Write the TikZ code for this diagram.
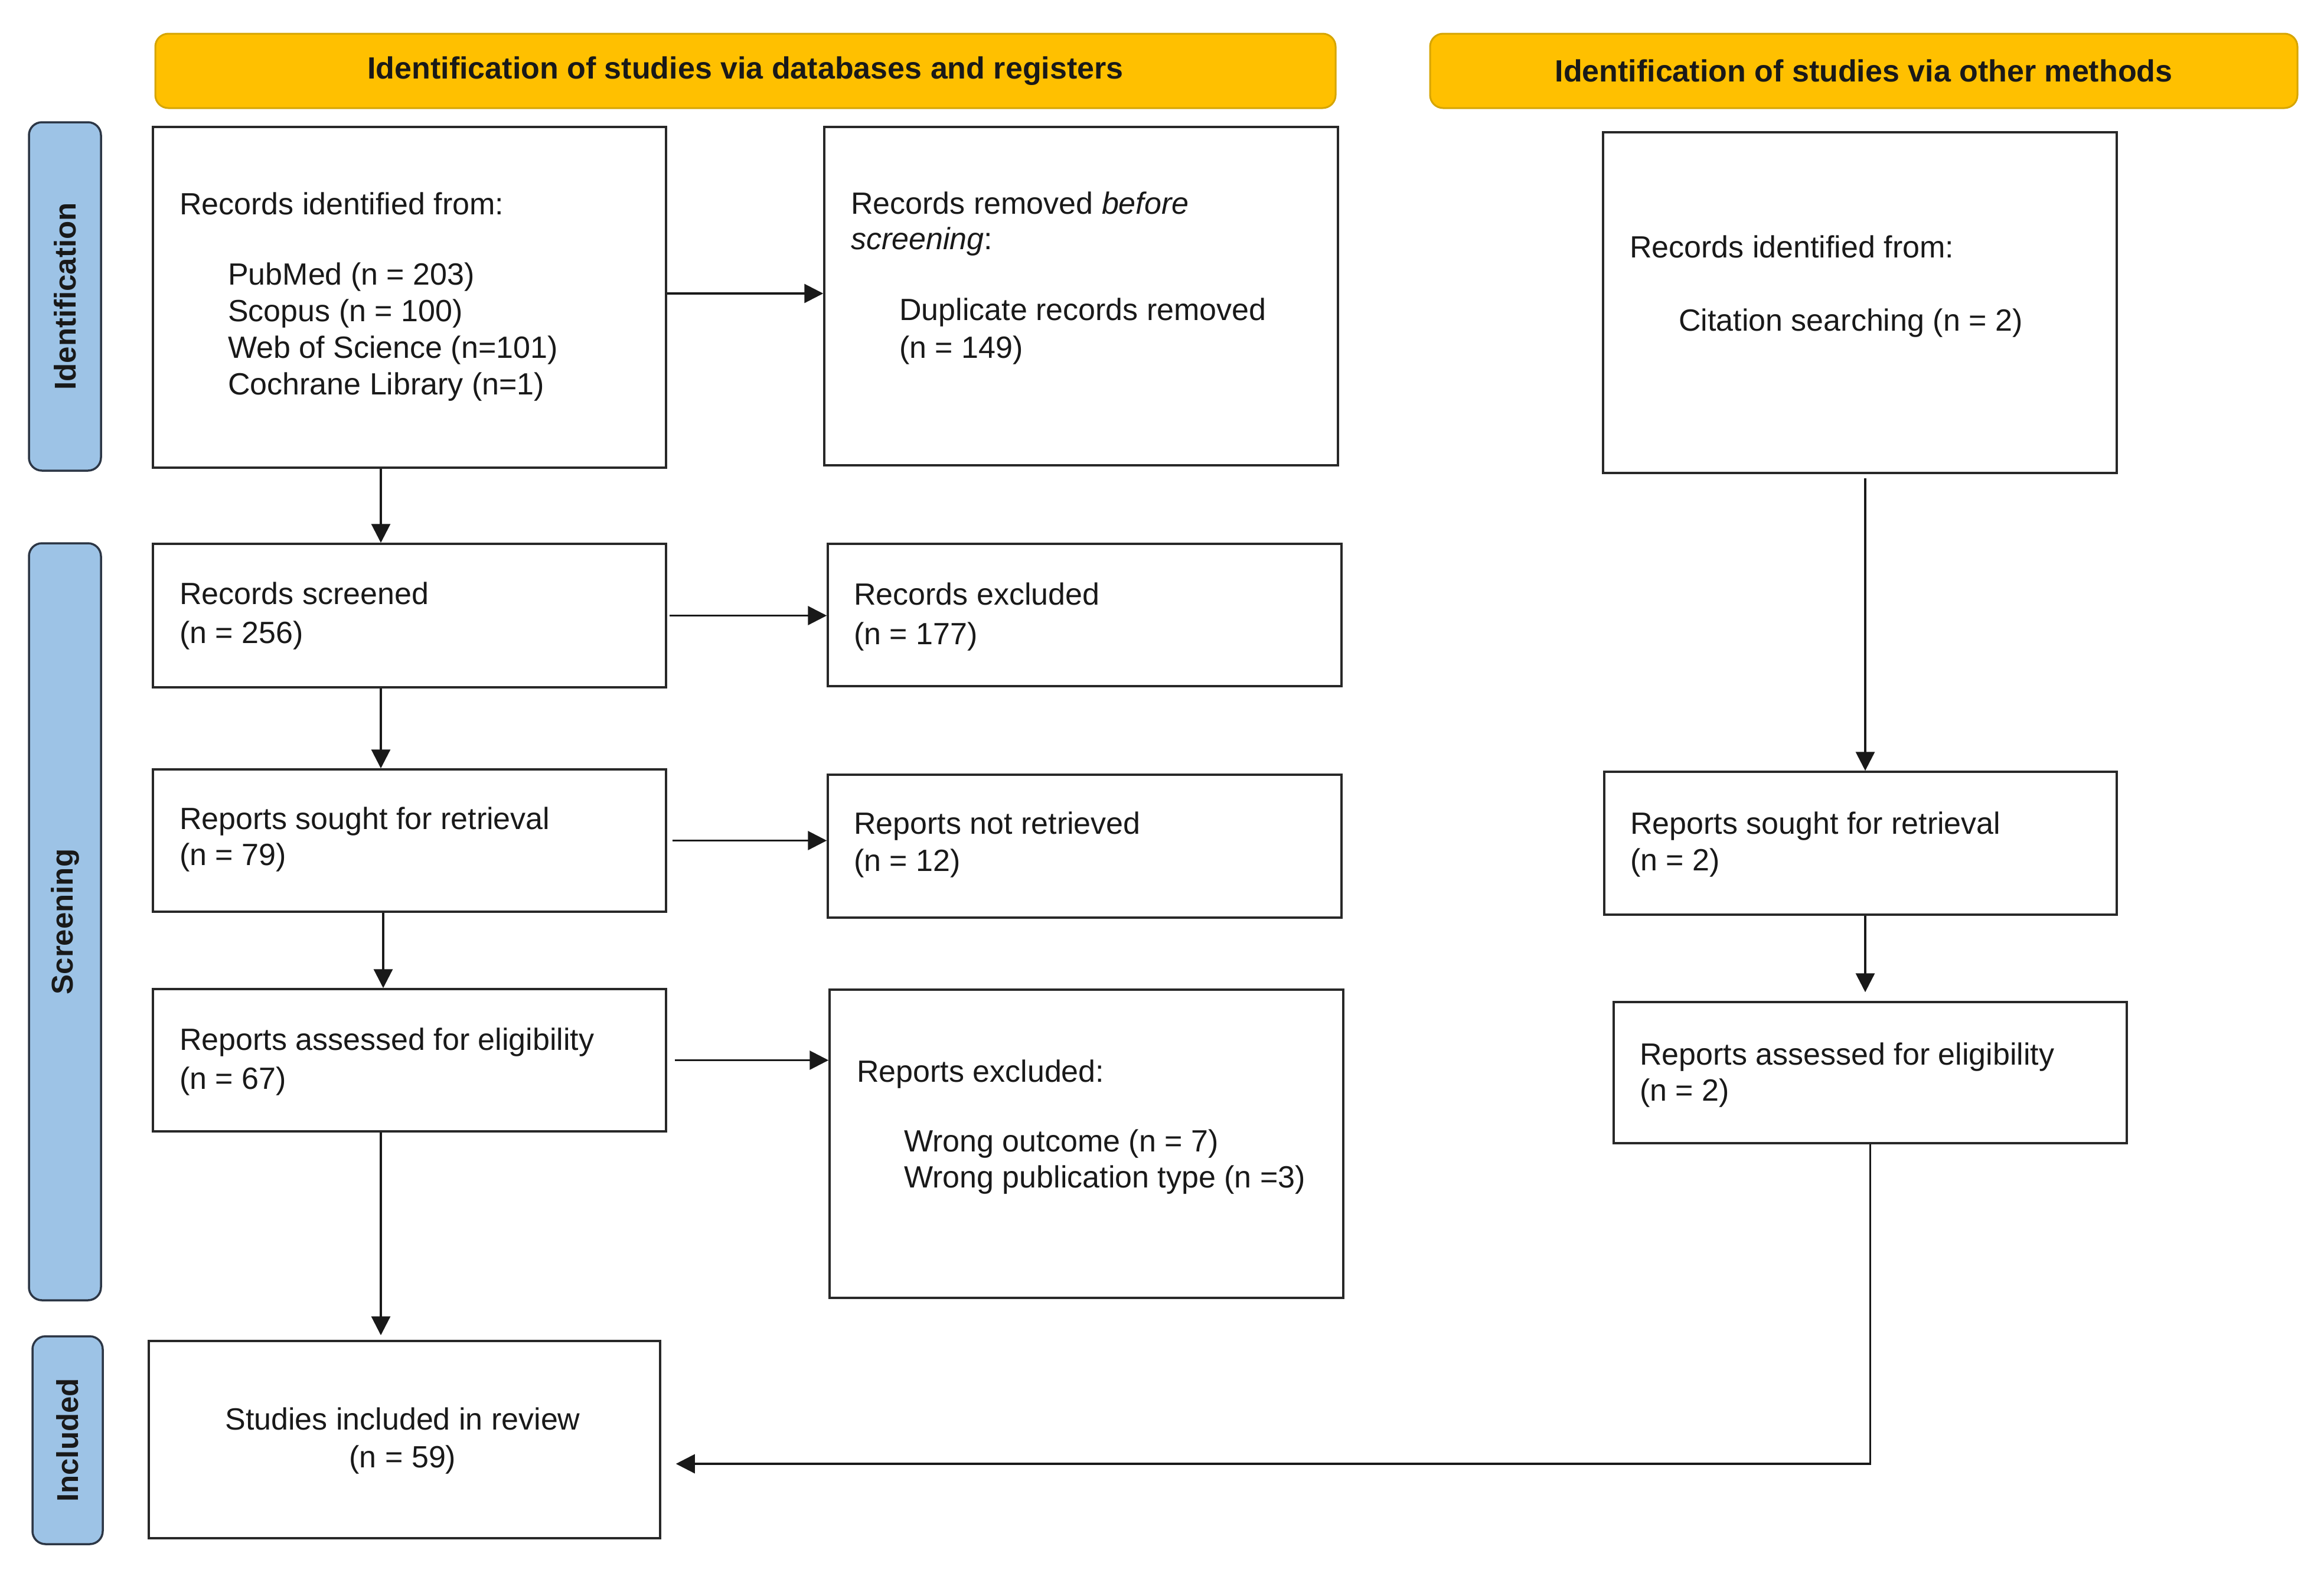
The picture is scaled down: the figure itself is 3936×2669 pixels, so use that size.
\documentclass[tikz,border=0pt]{standalone}
\usepackage{fontspec}
\setmainfont{Liberation Sans}
\usetikzlibrary{arrows.meta}
\definecolor{gold}{RGB}{255,192,0}
\definecolor{golddark}{RGB}{214,165,0}
\definecolor{barblue}{RGB}{157,195,230}
\definecolor{bardark}{RGB}{45,55,70}
\definecolor{boxline}{RGB}{40,40,40}
\definecolor{ink}{RGB}{25,25,25}
\begin{document}
\begin{tikzpicture}[x=1pt,y=-1pt,
  box/.style={draw=boxline,line width=3.5pt,fill=white,inner sep=0pt,rectangle},
  hdr/.style={draw=golddark,fill=gold,line width=3pt,rounded corners=22pt,inner sep=0pt,text=ink,font=\fontsize{52}{62}\selectfont\bfseries},
  bar/.style={draw=bardark,fill=barblue,line width=3.5pt,rounded corners=22pt,inner sep=0pt},
  bartxt/.style={rotate=90,font=\fontsize{51}{60}\selectfont\bfseries,inner sep=0pt,text=ink},
  txt/.style={anchor=base west,align=left,inner sep=0pt,text=ink,font=\fontsize{52}{63}\selectfont},
  arr/.style={draw=ink,line width=3.2pt,-{Triangle[length=32pt,width=32pt]}},
  ln/.style={draw=ink,line width=3pt}]
\useasboundingbox (0,0) rectangle (3936,2669);
\fill[white] (0,0) rectangle (3936,2669);

% headers
\node[hdr,minimum width=1999pt,minimum height=126pt] (h1) at (1262.5,120) {Identification of studies via databases and registers};
\node[hdr,minimum width=1469pt,minimum height=126pt] (h2) at (3156.5,120) {Identification of studies via other methods};

% side bars
\node[bar,minimum width=122pt,minimum height=590pt] (s1) at (110,502) {};
\node[bartxt] (s1t) at (s1.center) {Identification};
\node[bar,minimum width=122pt,minimum height=1282pt] (s2) at (110,1561) {};
\node[bartxt] (s2t) at (s2.center) {Screening};
\node[bar,minimum width=119pt,minimum height=352pt] (s3) at (114.5,2439) {};
\node[bartxt] (s3t) at (s3.center) {Included};

% boxes
\node[box,minimum width=869pt,minimum height=577pt] (b1) at (693.5,503.5) {};
\node[box,minimum width=870pt,minimum height=573pt] (b2) at (1831,501.5) {};
\node[box,minimum width=870pt,minimum height=577pt] (b3) at (3150,512.5) {};
\node[box,minimum width=869pt,minimum height=243pt] (b4) at (693.5,1042.5) {};
\node[box,minimum width=869pt,minimum height=241pt] (b5) at (693.5,1423.5) {};
\node[box,minimum width=869pt,minimum height=241pt] (b6) at (693.5,1795.5) {};
\node[box,minimum width=866pt,minimum height=334pt] (b7) at (685,2438) {};
\node[box,minimum width=870pt,minimum height=241pt] (b8) at (1837,1041.5) {};
\node[box,minimum width=870pt,minimum height=242pt] (b9) at (1837,1433) {};
\node[box,minimum width=870pt,minimum height=522pt] (b10) at (1840,1937) {};
\node[box,minimum width=868pt,minimum height=242pt] (b11) at (3151,1428) {};
\node[box,minimum width=869pt,minimum height=239pt] (b12) at (3167.5,1816.5) {};

% texts (anchor = baseline of the last line)
\node[txt] (t1a) at (304,363) {Records identified from:};
\node[txt,font=\fontsize{52}{62}\selectfont] (t1b) at (386,668) {PubMed (n = 203)\\Scopus (n = 100)\\Web of Science (n=101)\\Cochrane Library (n=1)};
\node[txt,font=\fontsize{52}{60}\selectfont] (t2a) at (1441,422) {Records removed \textit{before}\\\textit{screening}:};
\node[txt,font=\fontsize{52}{64}\selectfont] (t2b) at (1523,606) {Duplicate records removed\\(n = 149)};
\node[txt] (t3a) at (2760,436) {Records identified from:};
\node[txt] (t3b) at (2843,560) {Citation searching (n = 2)};
\node[txt,font=\fontsize{52}{66}\selectfont] (t4) at (304,1089) {Records screened\\(n = 256)};
\node[txt,font=\fontsize{52}{61}\selectfont] (t5) at (304,1465) {Reports sought for retrieval\\(n = 79)};
\node[txt,font=\fontsize{52}{66}\selectfont] (t6) at (304,1844) {Reports assessed for eligibility\\(n = 67)};
\node[txt,anchor=base,align=center,font=\fontsize{52}{64}\selectfont] (t7) at (682,2485) {Studies included in review\\(n = 59)};
\node[txt,font=\fontsize{52}{67}\selectfont] (t8) at (1446,1091) {Records excluded\\(n = 177)};
\node[txt] (t9) at (1446,1475) {Reports not retrieved\\(n = 12)};
\node[txt] (t10a) at (1451,1832) {Reports excluded:};
\node[txt,font=\fontsize{52}{61}\selectfont] (t10b) at (1531,2011) {Wrong outcome (n = 7)\\Wrong publication type (n =3)};
\node[txt,font=\fontsize{52}{62}\selectfont] (t11) at (2761,1474) {Reports sought for retrieval\\(n = 2)};
\node[txt,font=\fontsize{52}{61}\selectfont] (t12) at (2777,1864) {Reports assessed for eligibility\\(n = 2)};

% connector guides
\coordinate (xa) at (645,0);
\coordinate (xb) at (649,0);
\coordinate (xc) at (3159,0);
\coordinate (ya) at (0,497);
\coordinate (yb) at (0,2479);

% connectors
\draw[arr] (b1.south -| xa) -- (b4.north -| xa);
\draw[arr] (b4.south -| xa) -- (b5.north -| xa);
\draw[arr] (b5.south -| xb) -- (b6.north -| xb);
\draw[arr,shorten >=8pt] (b6.south -| xa) -- (b7.north -| xa);
\draw[arr] (b1.east |- ya) -- (b2.west |- ya);
\draw[arr,shorten <=4pt] (b4.east) -- (b4.east -| b8.west);
\draw[arr,shorten <=9pt] (b5.east) -- (b5.east -| b9.west);
\draw[arr,shorten <=13pt] (b6.east) -- (b6.east -| b10.west);
\draw[arr,shorten <=7pt] (b3.south -| xc) -- (b11.north -| xc);
\draw[arr,shorten >=15pt] (b11.south -| xc) -- (b12.north -| xc);
\draw[arr,shorten >=25pt] (b12.south) |- (b7.east |- yb);
\end{tikzpicture}
\end{document}
